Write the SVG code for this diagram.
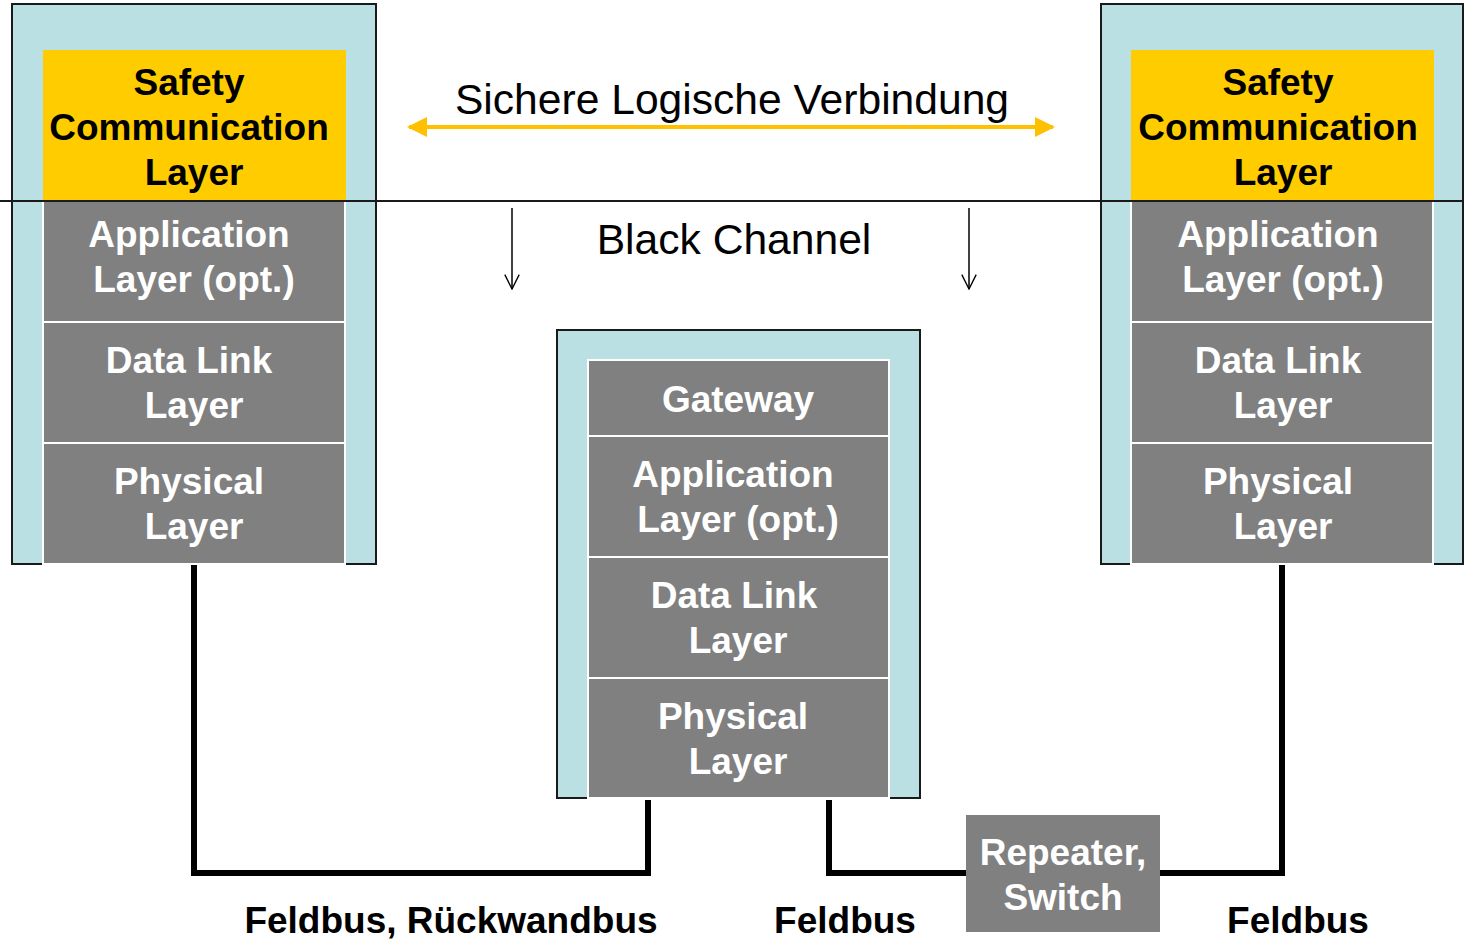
<svg xmlns="http://www.w3.org/2000/svg" width="1464" height="943" viewBox="0 0 1464 943">
<style>
.frame{fill:#BBE0E3;stroke:#1a1a1a;stroke-width:2}
.safe{fill:#FFCC00}
.layer{fill:#808080;stroke:#ffffff;stroke-width:2}
.lt{font-family:"Liberation Sans",Arial,sans-serif;font-weight:bold;font-size:37px;fill:#ffffff;text-anchor:middle}
.st{font-family:"Liberation Sans",Arial,sans-serif;font-weight:bold;font-size:37px;fill:#000000;text-anchor:middle}
.nt{font-family:"Liberation Sans",Arial,sans-serif;font-size:42.6px;fill:#000000;text-anchor:middle}
.bus{fill:none;stroke:#000;stroke-width:6;stroke-linejoin:miter}
</style>
<defs>
<marker id="gold" viewBox="0 0 10 10" refX="9" refY="5" markerWidth="5" markerHeight="5" orient="auto-start-reverse" markerUnits="strokeWidth">
<path d="M0,0 L10,5 L0,10 z" fill="#FFC000"/>
</marker>
<marker id="open" viewBox="0 0 20 20" refX="10" refY="19" markerWidth="18" markerHeight="18" orient="0" markerUnits="userSpaceOnUse">
<path d="M2,3 L10,19 L18,3" fill="none" stroke="#000" stroke-width="1.5"/>
</marker>
</defs>

<g id="node-left">
<rect class="frame" x="12" y="4" width="364" height="560"/>
<rect class="safe" x="43" y="50" width="303" height="151"/>
<rect class="layer" x="43" y="201" width="302" height="121"/>
<rect class="layer" x="43" y="322" width="302" height="121"/>
<rect class="layer" x="43" y="443" width="302" height="121"/>
<text class="st" x="189" y="95">Safety</text>
<text class="st" x="189" y="140">Communication</text>
<text class="st" x="194" y="185">Layer</text>
<text class="lt" x="189" y="247">Application</text>
<text class="lt" x="194" y="292">Layer (opt.)</text>
<text class="lt" x="189" y="373">Data Link</text>
<text class="lt" x="194" y="418">Layer</text>
<text class="lt" x="189" y="494">Physical</text>
<text class="lt" x="194" y="539">Layer</text>
</g>

<g id="node-right">
<rect class="frame" x="1101" y="4" width="362" height="560"/>
<rect class="safe" x="1131" y="50" width="303" height="151"/>
<rect class="layer" x="1131" y="201" width="302" height="121"/>
<rect class="layer" x="1131" y="322" width="302" height="121"/>
<rect class="layer" x="1131" y="443" width="302" height="121"/>
<text class="st" x="1278" y="95">Safety</text>
<text class="st" x="1278" y="140">Communication</text>
<text class="st" x="1283" y="185">Layer</text>
<text class="lt" x="1278" y="247">Application</text>
<text class="lt" x="1283" y="292">Layer (opt.)</text>
<text class="lt" x="1278" y="373">Data Link</text>
<text class="lt" x="1283" y="418">Layer</text>
<text class="lt" x="1278" y="494">Physical</text>
<text class="lt" x="1283" y="539">Layer</text>
</g>

<g id="node-gateway">
<rect class="frame" x="557" y="330" width="363" height="468"/>
<rect class="layer" x="588" y="360" width="301" height="76"/>
<rect class="layer" x="588" y="436" width="301" height="121"/>
<rect class="layer" x="588" y="557" width="301" height="121"/>
<rect class="layer" x="588" y="678" width="301" height="120"/>
<text class="lt" x="738" y="412">Gateway</text>
<text class="lt" x="733" y="487">Application</text>
<text class="lt" x="738" y="532">Layer (opt.)</text>
<text class="lt" x="734" y="608">Data Link</text>
<text class="lt" x="738" y="653">Layer</text>
<text class="lt" x="733" y="729">Physical</text>
<text class="lt" x="738" y="774">Layer</text>
</g>

<g id="node-repeater">
<rect x="966" y="815" width="194" height="117" fill="#808080"/>
<text class="lt" x="1063" y="865">Repeater,</text>
<text class="lt" x="1063" y="910">Switch</text>
</g>

<g id="connectors">
<line x1="0" y1="201" x2="1464" y2="201" stroke="#1a1a1a" stroke-width="2"/>
<line x1="409" y1="127" x2="1053" y2="127" stroke="#FFC000" stroke-width="4" marker-start="url(#gold)" marker-end="url(#gold)"/>
<line x1="512" y1="208" x2="512" y2="289" stroke="#000" stroke-width="1.5" marker-end="url(#open)"/>
<line x1="969" y1="208" x2="969" y2="289" stroke="#000" stroke-width="1.5" marker-end="url(#open)"/>
<polyline class="bus" points="194,565 194,873 648,873 648,800"/>
<polyline class="bus" points="829,800 829,873 966,873"/>
<polyline class="bus" points="1160,873 1282,873 1282,565"/>
</g>

<g id="labels">
<text class="nt" x="732" y="114">Sichere Logische Verbindung</text>
<text class="nt" x="734" y="254">Black Channel</text>
<text class="st" x="451" y="933">Feldbus, Rückwandbus</text>
<text class="st" x="845" y="933">Feldbus</text>
<text class="st" x="1298" y="933">Feldbus</text>
</g>
</svg>
